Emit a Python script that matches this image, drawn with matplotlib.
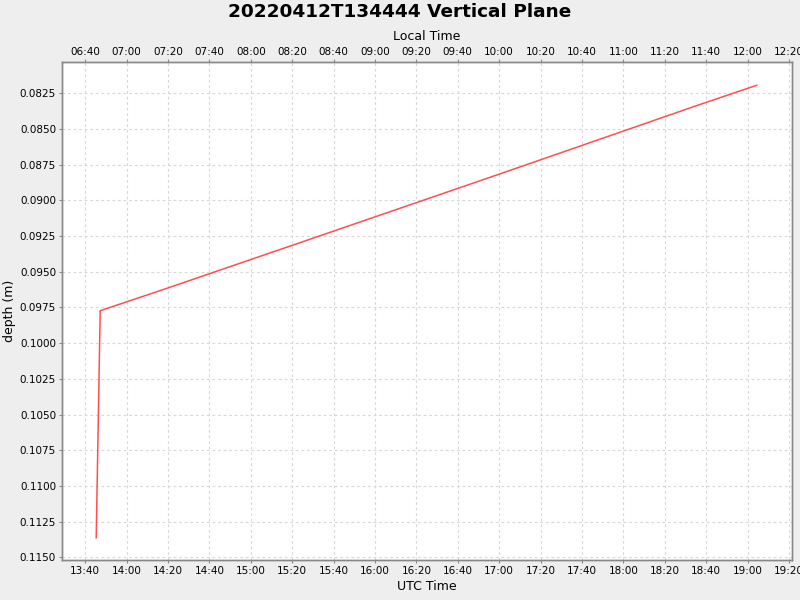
import matplotlib
matplotlib.use("Agg")
import matplotlib.pyplot as plt
import matplotlib.dates as mdates
import matplotlib.ticker as mticker
from datetime import datetime, timedelta

# data (UTC time, depth in m)
times = ["2022-04-12 13:45:18", "2022-04-12 13:47:14", "2022-04-12 14:19:52",
         "2022-04-12 15:23:38", "2022-04-12 16:59:54", "2022-04-12 18:36:18",
         "2022-04-12 19:04:26"]
depths = [0.11363, 0.09773, 0.09614, 0.09297, 0.08817, 0.08332, 0.08194]

title = "20220412T134444 Vertical Plane"
x_start = "2022-04-12 13:28:55"
x_end = "2022-04-12 19:21:20"
y_top, y_bottom = 0.08033, 0.11519
local_offset_hours = -7

t = [datetime.strptime(s, "%Y-%m-%d %H:%M:%S") for s in times]
x0 = datetime.strptime(x_start, "%Y-%m-%d %H:%M:%S")
x1 = datetime.strptime(x_end, "%Y-%m-%d %H:%M:%S")

plt.rcParams['font.family'] = ['DejaVu Sans']
fig = plt.figure(figsize=(8, 6), dpi=100, facecolor="#EEEEEE")
ax = fig.add_axes([62.3/800, 1-560/600, (791.7-62.3)/800, (560-62.3)/600])
ax.set_facecolor("white")

ax.plot(t, depths, color="#FF4F4F", lw=1.1, solid_joinstyle="miter")
ax.set_xlim(x0, x1)
ax.set_ylim(y_bottom, y_top)

ax.yaxis.set_major_locator(mticker.MultipleLocator(0.0025))
ax.yaxis.set_major_formatter(mticker.FormatStrFormatter("%.4f"))
ax.xaxis.set_major_locator(mdates.MinuteLocator(byminute=[0, 20, 40]))
ax.xaxis.set_major_formatter(mdates.DateFormatter("%H:%M"))

grid_kw = dict(color="#D8D8D8", linestyle=(0, (2.5, 2.5)), linewidth=0.8)
ax.grid(True, **grid_kw)

ax2 = ax.twiny()
off = timedelta(hours=local_offset_hours)
ax2.set_xlim(x0 + off, x1 + off)
ax2.xaxis.set_major_locator(mdates.MinuteLocator(byminute=[0, 20, 40]))
ax2.xaxis.set_major_formatter(mdates.DateFormatter("%H:%M"))

for a in (ax, ax2):
    for sp in a.spines.values():
        sp.set_color("#888888")
        sp.set_linewidth(1.0)
    a.tick_params(axis="both", colors="#888888", labelcolor="black",
                  labelsize=7.5, length=2, width=0.8, pad=2.5)
ax2.tick_params(axis="x", pad=1.5)

ax.set_xlabel("UTC Time", fontsize=9, labelpad=3)
ax2.set_xlabel("Local Time", fontsize=9, labelpad=5.5)
ax.set_ylabel("depth (m)", fontsize=9, labelpad=3)

fig.text(0.5, 1-12/600, title, ha="center", va="center",
         fontsize=13.3, fontweight="bold")

fig.savefig("out.png", dpi=100, facecolor=fig.get_facecolor())
